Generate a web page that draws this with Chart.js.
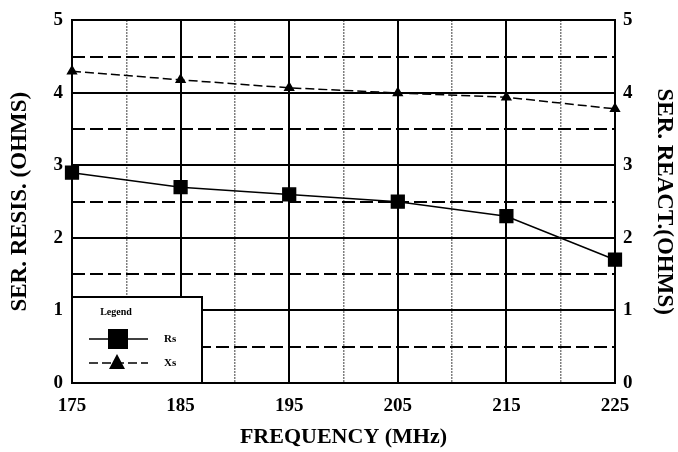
<!DOCTYPE html>
<html>
<head>
<meta charset="utf-8">
<script src="https://cdn.jsdelivr.net/npm/chart.js@4/dist/chart.umd.min.js"></script>
<style>
  html, body { margin: 0; padding: 0; background: #fff; }
  #wrap { width: 678px; height: 452px; }
</style>
</head>
<body>
<div id="wrap"><canvas id="graphs"></canvas></div>
<script>
// frequency points (MHz)
const freqs = [175, 185, 195, 205, 215, 225];
// series resistance Rs (ohms)
const rsValues = [2.9, 2.7, 2.6, 2.5, 2.3, 1.7];
// series reactance Xs (ohms)
const xsValues = [4.3, 4.18, 4.07, 4.0, 3.94, 3.78];
// extra grid lines between the main ticks
const halfFreqs = [180, 190, 200, 210, 220];
const halfOhms = [0.5, 1.5, 2.5, 3.5, 4.5];

const serif = "'Liberation Serif', 'DejaVu Serif', serif";

// legend box drawn in the lower left corner of the plot
const boxLegend = {
    id: 'boxLegend',
    afterDraw(chart) {
        const ctx = chart.ctx;
        const a = chart.chartArea;
        const w = 130, h = 86;
        const x0 = a.left, y0 = a.bottom - h;
        ctx.save();
        ctx.fillStyle = '#fff';
        ctx.fillRect(x0, y0, w, h);
        ctx.strokeStyle = '#000';
        ctx.lineWidth = 2;
        ctx.strokeRect(x0, y0, w, h);

        ctx.fillStyle = '#000';
        ctx.textAlign = 'center';
        ctx.textBaseline = 'middle';
        ctx.font = 'bold 10px ' + serif;
        ctx.fillText('Legend', x0 + 44, y0 + 15);

        const rows = chart.data.datasets;
        rows.forEach((ds, i) => {
            const y = y0 + 42 + i * 24;
            ctx.lineWidth = 1.5;
            ctx.setLineDash(ds.borderDash || []);
            ctx.beginPath();
            ctx.moveTo(x0 + 17, y);
            ctx.lineTo(x0 + 76, y);
            ctx.stroke();
            ctx.setLineDash([]);
            ctx.beginPath();
            if (ds.pointStyle === 'rect') {
                ctx.fillRect(x0 + 36, y - 10, 20, 20);
            } else {
                ctx.moveTo(x0 + 45, y - 9);
                ctx.lineTo(x0 + 53, y + 6);
                ctx.lineTo(x0 + 37, y + 6);
                ctx.closePath();
                ctx.fill();
            }
            ctx.font = 'bold 11px ' + serif;
            ctx.textAlign = 'left';
            ctx.fillText(ds.label, x0 + 92, y);
        });
        ctx.restore();
    }
};

function initChart(id) {
    const ctx = document.getElementById(id).getContext('2d');

    new Chart(ctx, {
        type: 'line',
        data: {
            datasets: [{
                label: 'Rs',
                data: freqs.map((f, i) => ({ x: f, y: rsValues[i] })),
                borderColor: '#000',
                backgroundColor: '#000',
                borderWidth: 1.5,
                pointStyle: 'rect',
                radius: 9,
                clip: false,
            }, {
                label: 'Xs',
                data: freqs.map((f, i) => ({ x: f, y: xsValues[i] })),
                borderColor: '#000',
                backgroundColor: '#000',
                borderWidth: 1.5,
                borderDash: [9, 4],
                pointStyle: 'triangle',
                radius: 5,
                clip: false,
            }],
        },
        options: {
            responsive: true,
            maintainAspectRatio: false,
            animation: false,
            layout: {
                padding: { top: 20, left: 0, right: 0, bottom: 0 }
            },
            plugins: {
                legend: { display: false },
                tooltip: { enabled: false },
            },
            scales: {
                x: {
                    type: 'linear',
                    min: 175,
                    max: 225,
                    afterFit: s => { s.height = 69; },
                    grid: { color: '#000', lineWidth: 2, drawTicks: false },
                    border: { color: '#000', width: 2 },
                    ticks: {
                        stepSize: 10,
                        color: '#000',
                        padding: 12,
                        maxRotation: 0,
                        font: { family: serif, size: 19, weight: 'bold' },
                    },
                    title: {
                        display: true,
                        text: 'FREQUENCY (MHz)',
                        color: '#000',
                        padding: { top: 0, bottom: 1 },
                        font: { family: serif, size: 22, weight: 'bold' },
                    },
                },
                xHalf: {
                    type: 'linear',
                    position: 'bottom',
                    min: 175,
                    max: 225,
                    afterBuildTicks: s => { s.ticks = halfFreqs.map(v => ({ value: v })); },
                    afterFit: s => { s.height = 0; },
                    grid: { color: '#000', lineWidth: 1.5, drawTicks: false },
                    border: { display: false, dash: [1, 2] },
                    ticks: { display: false },
                },
                y: {
                    position: 'left',
                    min: 0,
                    max: 5,
                    afterFit: s => { s.width = 72; },
                    grid: { color: '#000', lineWidth: 2, drawTicks: false },
                    border: { color: '#000', width: 2 },
                    ticks: {
                        stepSize: 1,
                        color: '#000',
                        padding: 9,
                        font: { family: serif, size: 19, weight: 'bold' },
                    },
                    title: {
                        display: true,
                        text: 'SER. RESIS. (OHMS)',
                        color: '#000',
                        padding: { top: 6, bottom: 0 },
                        font: { family: serif, size: 23, weight: 'bold' },
                    },
                },
                yHalf: {
                    position: 'left',
                    min: 0,
                    max: 5,
                    afterBuildTicks: s => { s.ticks = halfOhms.map(v => ({ value: v })); },
                    afterFit: s => { s.width = 0; },
                    grid: { color: '#000', lineWidth: 2, drawTicks: false },
                    border: { display: false, dash: [13, 5] },
                    ticks: { display: false },
                },
                y1: {
                    position: 'right',
                    min: 0,
                    max: 5,
                    afterFit: s => { s.width = 63; },
                    grid: { display: false, drawTicks: false },
                    border: { color: '#000', width: 2 },
                    ticks: {
                        stepSize: 1,
                        color: '#000',
                        padding: 8,
                        font: { family: serif, size: 19, weight: 'bold' },
                    },
                    title: {
                        display: true,
                        text: 'SER. REACT.(OHMS)',
                        color: '#000',
                        padding: { top: 0, bottom: 0 },
                        font: { family: serif, size: 23, weight: 'bold' },
                    },
                },
            },
        },
        plugins: [boxLegend],
    });
}

initChart("graphs");
</script>
</body>
</html>
